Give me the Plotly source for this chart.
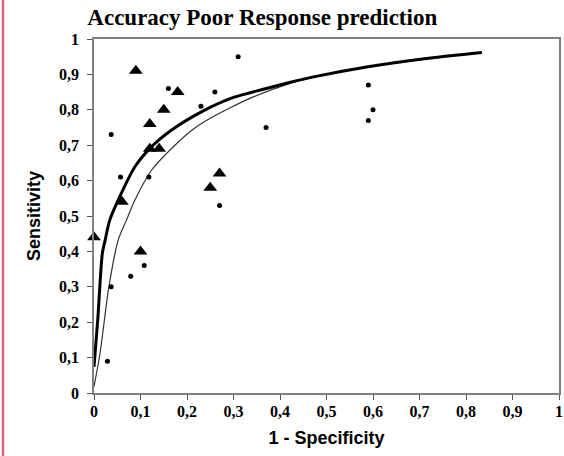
import plotly.graph_objects as go

# Triangle markers (group 1)
tri_x = [0.0, 0.09, 0.18, 0.15, 0.12, 0.12, 0.14, 0.06, 0.25, 0.27, 0.10]
tri_y = [0.44, 0.91, 0.85, 0.80, 0.76, 0.69, 0.69, 0.54, 0.58, 0.62, 0.40]

# Dot markers (group 2)
dot_x = [0.31, 0.037, 0.16, 0.26, 0.23, 0.37, 0.057, 0.118, 0.27, 0.037, 0.079, 0.108, 0.029, 0.59, 0.60, 0.59]
dot_y = [0.95, 0.73, 0.86, 0.85, 0.81, 0.75, 0.61, 0.61, 0.53, 0.30, 0.33, 0.36, 0.09, 0.87, 0.80, 0.77]

# Fitted ROC curve (thick)
thick_x = [0.0, 0.008, 0.018, 0.024, 0.034, 0.052, 0.088, 0.124, 0.167, 0.232, 0.30, 0.364, 0.42, 0.472, 0.586, 0.715, 0.834]
thick_y = [0.074, 0.206, 0.395, 0.432, 0.489, 0.545, 0.639, 0.696, 0.743, 0.795, 0.835, 0.858, 0.877, 0.893, 0.921, 0.945, 0.962]

# Fitted ROC curve (thin)
thin_x = [0.0, 0.013, 0.032, 0.052, 0.070, 0.088, 0.124, 0.174, 0.214, 0.25, 0.292, 0.34, 0.42, 0.472, 0.586, 0.715, 0.834]
thin_y = [0.018, 0.113, 0.30, 0.432, 0.489, 0.545, 0.63, 0.70, 0.746, 0.776, 0.805, 0.835, 0.874, 0.892, 0.920, 0.944, 0.961]

tick_vals = [0, 0.1, 0.2, 0.3, 0.4, 0.5, 0.6, 0.7, 0.8, 0.9, 1]
tick_text = ["0", "0,1", "0,2", "0,3", "0,4", "0,5", "0,6", "0,7", "0,8", "0,9", "1"]

fig = go.Figure()
fig.add_trace(go.Scatter(x=thin_x, y=thin_y, mode="lines",
                         line=dict(color="#333333", width=1.2, shape="spline", smoothing=0.8),
                         hoverinfo="skip", showlegend=False))
fig.add_trace(go.Scatter(x=thick_x, y=thick_y, mode="lines",
                         line=dict(color="black", width=3, shape="spline", smoothing=0.8),
                         hoverinfo="skip", showlegend=False))
fig.add_trace(go.Scatter(x=dot_x, y=dot_y, mode="markers",
                         marker=dict(symbol="circle", size=5, color="black"),
                         cliponaxis=False, showlegend=False))
fig.add_trace(go.Scatter(x=tri_x, y=tri_y, mode="markers",
                         marker=dict(symbol="triangle-up", size=12, color="black"),
                         cliponaxis=False, showlegend=False))

serif = "Liberation Serif, Times New Roman, serif"
sans = "Liberation Sans, Arial, sans-serif"

bold_ticks = ["<b>" + t + "</b>" for t in tick_text]

axis_common = dict(
    range=[0, 1], tickvals=tick_vals, ticktext=bold_ticks,
    ticks="outside", ticklen=5, tickwidth=1, tickcolor="#555555",
    showgrid=False, zeroline=False, showline=True, linecolor="#808080", linewidth=1.5,
    mirror=True,
    tickfont=dict(family=serif, size=16, color="black"),
)

fig.update_layout(
    width=564, height=456,
    margin=dict(l=94, r=5, t=39, b=63, autoexpand=False),
    paper_bgcolor="white", plot_bgcolor="white",
    title=dict(text="<b>Accuracy Poor Response prediction</b>",
               font=dict(family=serif, size=23, color="black"),
               x=0.465, xanchor="center", y=0.962, yanchor="middle"),
    xaxis=dict(**axis_common, ticklabelstandoff=-2,
               title=dict(text="<b>1 - Specificity</b>", font=dict(family=sans, size=18, color="black"),
                          standoff=12)),
    yaxis=dict(**axis_common, ticklabelstandoff=5,
               title=dict(text="<b>Sensitivity</b>", font=dict(family=sans, size=18, color="black"),
                          standoff=14)),
    shapes=[dict(type="line", xref="paper", yref="paper",
                 x0=-0.1957, x1=-0.1957, y0=-0.2, y1=1.2,
                 line=dict(color="#e0607a", width=2.5))],
)

fig.write_html("out.html", config={"displayModeBar": False},
               post_script="document.body.style.margin='0px';document.body.style.overflow='hidden';")
